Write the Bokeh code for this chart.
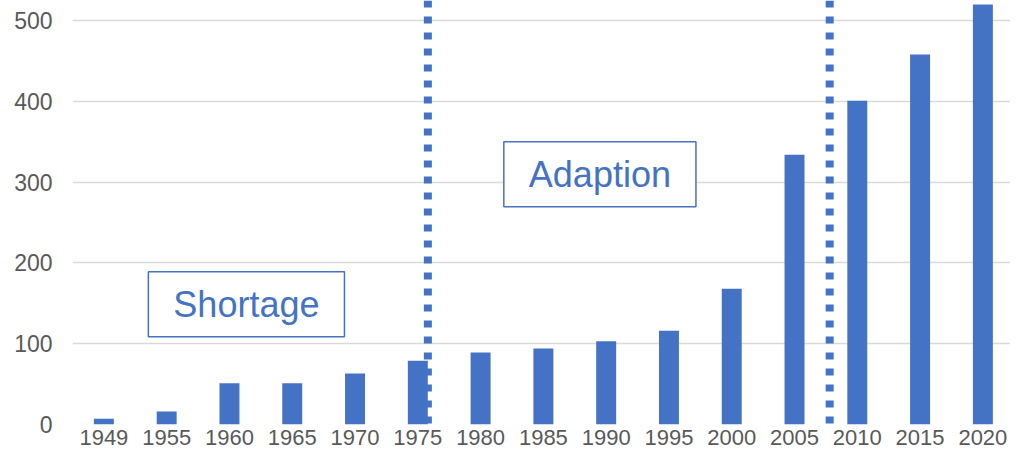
from bokeh.plotting import figure
from bokeh.models import Range1d, FixedTicker, Span, Label
from bokeh.embed import file_html
from bokeh.resources import INLINE

years = ["1949", "1955", "1960", "1965", "1970", "1975", "1980", "1985",
         "1990", "1995", "2000", "2005", "2010", "2015", "2020"]
values = [7, 16, 51, 51, 63, 79, 89, 94, 103, 116, 168, 334, 401, 458, 520]
y_ticks = [0, 100, 200, 300, 400, 500]

# phase boundaries (positions between categories) and phase labels
boundaries = [5.16, 11.56]
phase_labels = ["Shortage", "Adaption"]
phase_pos = [(2.27, 149), (7.90, 310)]

BLUE = "#4472C4"
GREY_TXT = "#595959"
FONT = "Liberation Sans"

idx = list(range(len(years)))

p = figure(width=1010, height=454, output_backend="svg", toolbar_location=None,
           x_range=Range1d(-0.5, 14.44), y_range=Range1d(0, 525),
           min_border_left=72, min_border_right=0, min_border_top=0,
           min_border_bottom=30)
p.outline_line_color = None
p.background_fill_color = "white"

p.vbar(x=idx, top=values, width=0.318, color=BLUE, line_color=None)

p.xaxis.ticker = FixedTicker(ticks=idx)
p.xaxis.major_label_overrides = {i: y for i, y in zip(idx, years)}
p.yaxis.ticker = FixedTicker(ticks=y_ticks)

for ax in (p.xaxis, p.yaxis):
    ax.axis_line_color = None
    ax.major_tick_line_color = None
    ax.minor_tick_line_color = None
    ax.major_tick_out = 0
    ax.major_tick_in = 0
    ax.major_label_text_color = GREY_TXT
    ax.major_label_text_font = FONT
p.yaxis.major_label_text_font_size = "23px"
p.xaxis.major_label_text_font_size = "22px"
p.yaxis.major_label_standoff = 20
p.xaxis.major_label_standoff = 5

p.xgrid.grid_line_color = None
p.ygrid.grid_line_color = "#D9D9D9"
p.ygrid.grid_line_width = 1.3

for b in boundaries:
    p.add_layout(Span(location=b, dimension="height", line_color=BLUE,
                      line_width=8, line_dash="7 9", line_cap="butt"))

for txt, (x, y) in zip(phase_labels, phase_pos):
    p.add_layout(Label(x=x, y=y, text=txt, text_align="center",
                       text_baseline="middle", text_color=BLUE,
                       text_font=FONT, text_font_size="36px",
                       border_line_color=BLUE, border_line_width=1.5,
                       background_fill_color="white", padding=(25, 12)))

open("out.html", "w").write(file_html(p, INLINE))
